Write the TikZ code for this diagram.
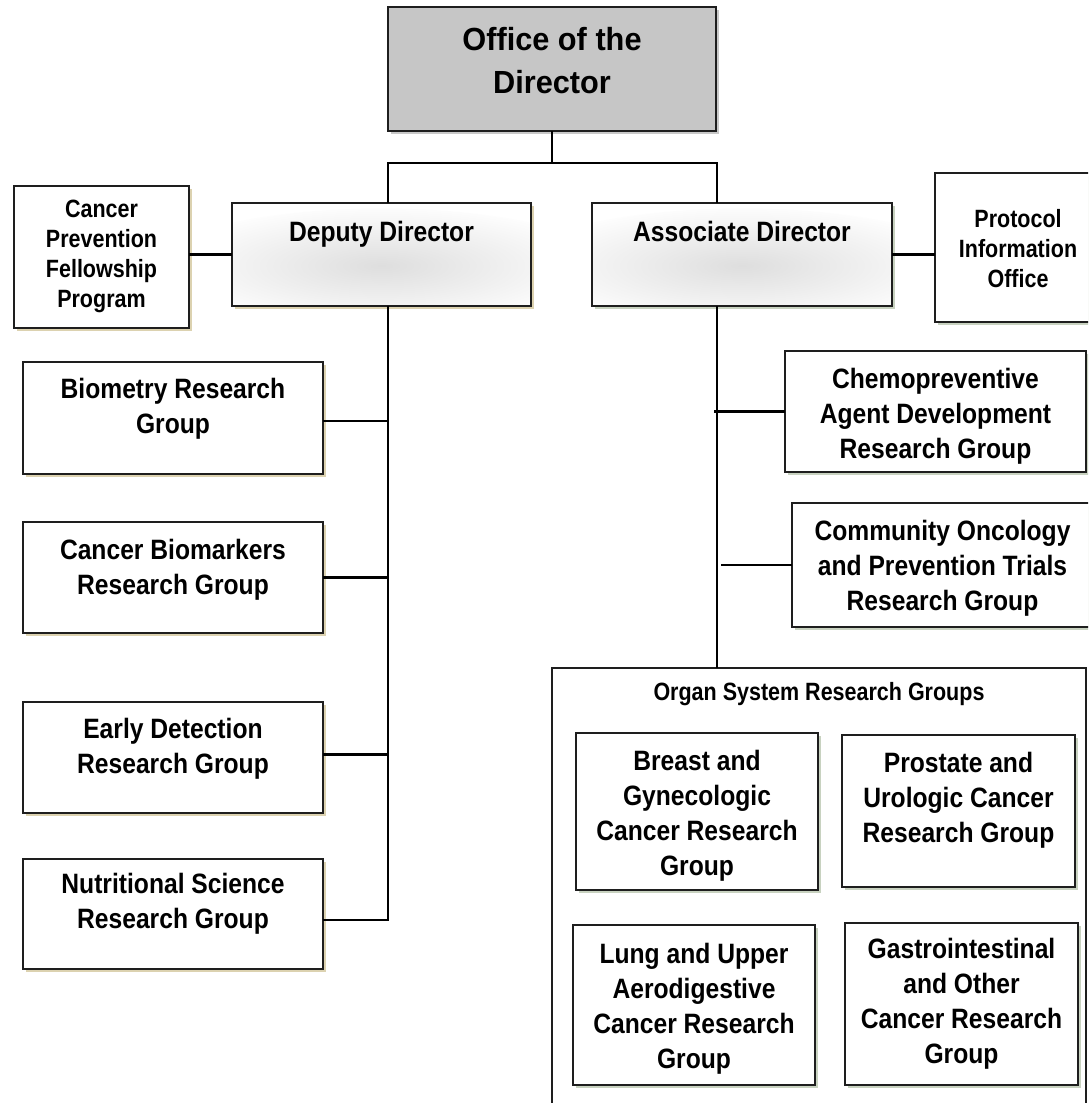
\documentclass[tikz,border=0pt]{standalone}
\usepackage{fontspec}
\setmainfont{Liberation Sans}
\newfontfamily\fafam{Liberation Sans}[FakeStretch=0.88]
\newfontfamily\fbfam{Liberation Sans}[FakeStretch=0.86]
\newfontfamily\fcfam{Liberation Sans}[FakeStretch=0.96]
\usetikzlibrary{shadows}
\definecolor{tanshadow}{RGB}{220,210,176}
\definecolor{greenshadow}{RGB}{200,210,192}
\definecolor{grayshadow}{RGB}{200,200,200}
\definecolor{dirgray}{RGB}{198,198,198}
\definecolor{edge}{RGB}{30,30,30}
\newcommand\fa{\fafam\fontsize{28}{35}\selectfont\bfseries}
\newcommand\fb{\fbfam\fontsize{25}{30}\selectfont\bfseries}
\newcommand\fc{\fcfam\fontsize{32}{43}\selectfont\bfseries}
\newcommand\bt[5]{\parbox[c][#2pt][t]{#1pt}{#4\centering\vspace*{#3pt}#5\par}}
\tikzset{
  orgbox/.style={draw=edge, line width=1.8pt, fill=white, inner sep=0pt, outer sep=0pt, text=black},
  tanbox/.style={orgbox, drop shadow={shadow xshift=3pt, shadow yshift=-3pt, opacity=1, fill=tanshadow}},
  grnbox/.style={orgbox, drop shadow={shadow xshift=3pt, shadow yshift=-3pt, opacity=1, fill=greenshadow}},
  headbox/.style={line width=2.6pt,
    path picture={\shade[inner color=black!13, outer color=white]
      ([yshift=-14pt]path picture bounding box.center) ellipse (230 and 60);}},
  conn/.style={draw=black, line width=2.2pt}
}
\begin{document}
\begin{tikzpicture}[x=1pt, y=-1pt]
\useasboundingbox (0,0) rectangle (1088,1103);
\clip (0,0) rectangle (1088,1103);
\fill[white] (0,0) rectangle (1088,1103);

% top
\node[orgbox, fill=dirgray, line width=2.4pt,
      drop shadow={shadow xshift=3pt, shadow yshift=-3pt, opacity=1, fill=grayshadow}]
  (dir) at (552,69) {\bt{328}{124}{20}{\fc}{Office of the\\Director}};

% second level
\node[tanbox, headbox] (dep) at (381.5,254.5) {\bt{299}{103}{18}{\fa}{Deputy Director}};
\node[grnbox, headbox] (asc) at (742,254.5) {\bt{300}{103}{18}{\fa}{Associate Director}};

\node[tanbox] (cpf) at (101.5,257) {\bt{175}{142}{14}{\fb}{Cancer\\Prevention\\Fellowship\\Program}};
\node[grnbox] (pio) at (1018,247.5) {\bt{166}{149}{36}{\fb}{Protocol\\Information\\Office}};

% left column
\node[tanbox] (bio) at (173,418) {\bt{300}{112}{16}{\fa}{Biometry Research\\Group}};
\node[tanbox] (cbm) at (173,577.5) {\bt{300}{111}{17}{\fa}{Cancer Biomarkers\\Research Group}};
\node[tanbox] (edr) at (173,757.5) {\bt{300}{111}{16}{\fa}{Early Detection\\Research Group}};
\node[tanbox] (nut) at (173,914) {\bt{300}{110}{14}{\fa}{Nutritional Science\\Research Group}};

% right column
\node[grnbox] (chem) at (935.5,411.5) {\bt{301}{121}{17}{\fa}{Chemopreventive\\Agent Development\\Research Group}};
\node[grnbox] (com) at (942.5,565) {\bt{301}{124}{17}{\fa}{Community Oncology\\and Prevention Trials\\Research Group}};

% organ system group
\node[orgbox, line width=2.2pt, fill=none] (org) at (819,899) {\bt{534}{462}{14}{\fb}{Organ System Research Groups}};
\node[grnbox] (brc) at (697,811.5) {\bt{242}{157}{17}{\fa}{Breast and\\Gynecologic\\Cancer Research\\Group}};
\node[grnbox] (pro) at (958.5,811) {\bt{233}{152}{17}{\fa}{Prostate and\\Urologic Cancer\\Research Group}};
\node[grnbox] (lng) at (694,1005) {\bt{242}{160}{18}{\fa}{Lung and Upper\\Aerodigestive\\Cancer Research\\Group}};
\node[grnbox] (gas) at (961.5,1004) {\bt{233}{162}{15}{\fa}{Gastrointestinal\\and Other\\Cancer Research\\Group}};

% connectors
\coordinate (jl) at (388,163);
\coordinate (jr) at (717,163);
\coordinate (dsb) at (388,920);
\draw[conn] (dir.south) -- (dir.south |- jl);
\draw[conn] (dep.north -| jl) -- (jl) -- (jr) -- (asc.north -| jr);
\draw[conn] (cpf.east |- dep.west) -- (dep.west);
\draw[conn] (asc.east) -- (asc.east -| pio.west);
\draw[conn] (dep.south -| dsb) -- (dsb) -- (dsb -| nut.east);
\draw[conn] ([yshift=-3pt]bio.east) -- ([yshift=-3pt]bio.east -| dsb);
\draw[conn] (cbm.east) -- (cbm.east -| dsb);
\draw[conn] ([yshift=3pt]edr.east) -- ([yshift=3pt]edr.east -| dsb);
\draw[conn] (asc.south -| jr) -- (org.north -| jr);
\draw[conn] (chem.west -| jr) ++(-3,0) -- (chem.west);
\draw[conn] (com.west -| jr) ++(4,0) -- (com.west);
\end{tikzpicture}
\end{document}
